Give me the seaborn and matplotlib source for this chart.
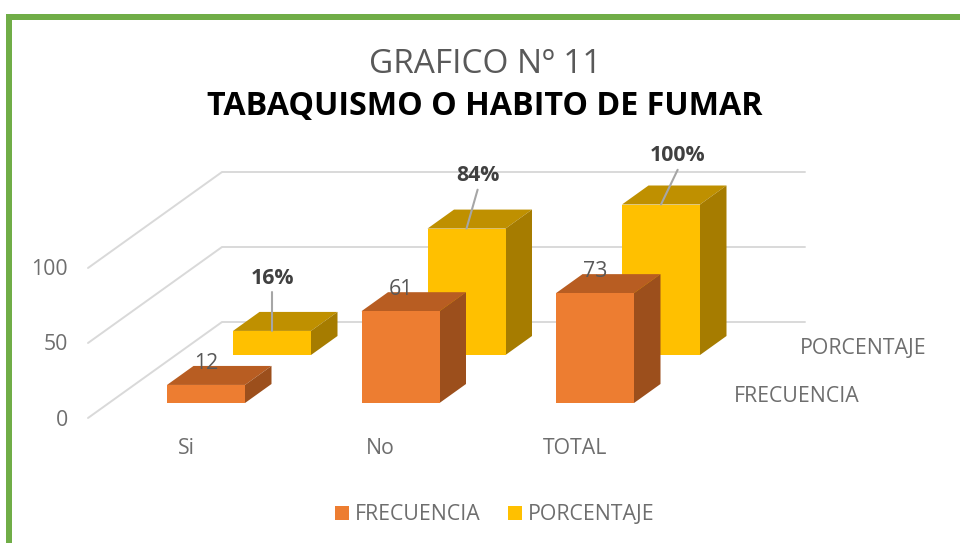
import matplotlib
matplotlib.use('Agg')
import matplotlib.pyplot as plt
import seaborn as sns
from matplotlib.patches import Polygon, Rectangle

categorias = ['Si', 'No', 'TOTAL']
frecuencia = [12, 61, 73]
porcentaje = [16, 84, 100]
porcentaje_txt = ['16%', '84%', '100%']
ticks_valor = [0, 50, 100]

W, H = 960, 543
PX_CAT = 194.5   # pixels per category
PX_VAL = 1.505   # pixels per unit
X0, Y0 = 206, 403   # pixel of first orange bar centre / zero line


def cat_x(px):
    return (px - X0) / PX_CAT


def val_y(px):
    return (Y0 - px) / PX_VAL


sns.set_style('white')
plt.rcParams['font.family'] = ['Open Sans', 'DejaVu Sans']

fig = plt.figure(figsize=(W / 100, H / 100), dpi=100, facecolor='white')
ax = fig.add_axes([0, 0, 1, 1])

# depth of a bar and shift of the back row, in data units
dx = 26.5 / PX_CAT
dy = 19 / PX_VAL
fila_dx = 66 / PX_CAT
fila_dy = 48 / PX_VAL
ancho = 78 / PX_CAT


def caras(barras, fila_x, fila_y, c_top, c_side, z):
    out = []
    for b in barras:
        b.set_x(b.get_x() + fila_x)
        b.set_y(b.get_y() + fila_y)
        b.set_zorder(z + 1)
        b.set_edgecolor('none')
        b.set_linewidth(0)
        x0, y0 = b.get_x(), b.get_y()
        x1, y1 = x0 + b.get_width(), y0 + b.get_height()
        ax.add_patch(Polygon([(x0, y1), (x1, y1), (x1 + dx, y1 + dy), (x0 + dx, y1 + dy)],
                             fc=c_top, ec='none', zorder=z))
        ax.add_patch(Polygon([(x1, y0), (x1, y1), (x1 + dx, y1 + dy), (x1 + dx, y0 + dy)],
                             fc=c_side, ec='none', zorder=z))
        out.append((x0 + b.get_width() / 2, y1))
    return out


sns.barplot(x=categorias, y=porcentaje, color='#FFC000', saturation=1, width=ancho,
            label='PORCENTAJE', ax=ax)
sns.barplot(x=categorias, y=frecuencia, color='#ED7D31', saturation=1, width=ancho,
            label='FRECUENCIA', ax=ax)
barras_p = ax.containers[0]
barras_f = ax.containers[1]
tope_p = caras(barras_p, fila_dx, fila_dy, '#BF9000', '#A67C00', 4)
tope_f = caras(barras_f, 0, 0, '#B85D22', '#9C4F1C', 6)

ax.set_xlim(cat_x(0), cat_x(W))
ax.set_ylim(val_y(H), val_y(0))
ax.set_xticks([])
ax.set_yticks([])
ax.set_xlabel('')
ax.set_ylabel('')
sns.despine(ax=ax, left=True, bottom=True)

# walls
pared_x, suelo_x, fin_x = cat_x(222), cat_x(88), cat_x(805)
pared_y = val_y(322)
suelo_y = val_y(418)
for t in ticks_valor:
    y = t * 75 / 50 / PX_VAL
    ax.plot([suelo_x, pared_x, fin_x], [suelo_y + y, pared_y + y, pared_y + y],
            color='#D9D9D9', lw=1.4, zorder=1, solid_joinstyle='miter')
    ax.text(cat_x(68), suelo_y + y - 2 / PX_VAL, str(t), ha='right', va='center', fontsize=15.3, color='#6E6E6E')

# data labels
for (x, y), v in zip(tope_f, frecuencia):
    ax.annotate(str(v), (x, y), xytext=(0, 15.3), textcoords='offset points', ha='center', va='center',
                fontsize=15.3, color='#595959', zorder=10)

lider = [(0, 28), (8, 28), (12, 25)]
for (x, y), s, (ox, oy) in zip(tope_p, porcentaje_txt, lider):
    ax.annotate('', xy=(x, y), xytext=(ox, oy), textcoords='offset points',
                arrowprops=dict(arrowstyle='-', color='#A6A6A6', lw=1.5, shrinkA=0, shrinkB=0), zorder=9)
    ax.annotate(s, (x, y), xytext=(ox, oy + 10), textcoords='offset points', ha='center', va='center',
                fontsize=15.3, fontweight='bold', color='#404040', zorder=10)

for i, c in enumerate(categorias):
    ax.text(i - 20 / PX_CAT, val_y(448), c, ha='center', va='center', fontsize=15.3, color='#6E6E6E')

ax.text(cat_x(800), val_y(349), 'PORCENTAJE', ha='left', va='center', fontsize=15.3, color='#6E6E6E')
ax.text(cat_x(734), val_y(396.5), 'FRECUENCIA', ha='left', va='center', fontsize=15.3, color='#6E6E6E')

# titles
ax.text(cat_x(485), val_y(65), 'GRAFICO Nº 11', ha='center', va='center', fontsize=24, color='#595959')
ax.text(cat_x(485), val_y(107), 'TABAQUISMO O HABITO DE FUMAR', ha='center', va='center', fontsize=23.2,
        fontweight='bold', color='black')

handles, labels = ax.get_legend_handles_labels()
ax.legend(handles[::-1], labels[::-1], ncol=2, loc='center', bbox_to_anchor=(495 / W, 1 - 515 / H),
          frameon=False, fontsize=15.3, labelcolor='#6E6E6E', handlelength=0.66, handleheight=0.66,
          handletextpad=0.28, columnspacing=1.27)

# green frame, open on the right and bottom
fig.add_artist(Rectangle((6 / W, 0), 6 / W, 1 - 14 / H, transform=fig.transFigure, fc='#70AD47', ec='none'))
fig.add_artist(Rectangle((6 / W, 1 - 20 / H), 1 - 6 / W, 6 / H, transform=fig.transFigure, fc='#70AD47', ec='none'))

fig.savefig('out.png', dpi=100)
